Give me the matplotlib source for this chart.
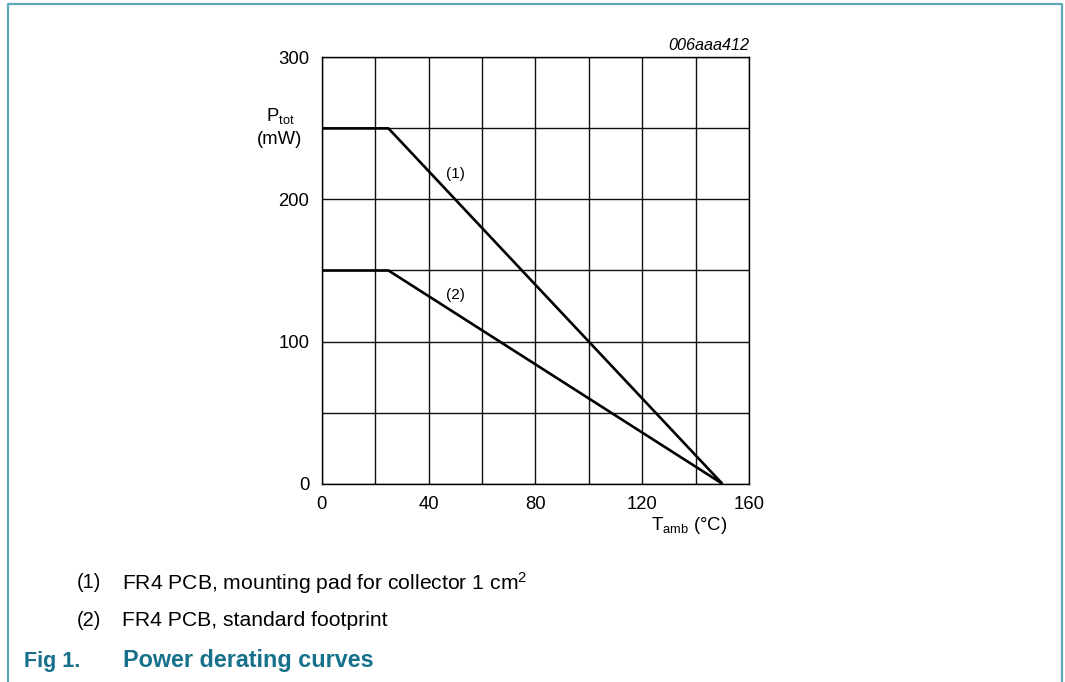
import matplotlib
matplotlib.use("Agg")
import matplotlib.pyplot as plt
from matplotlib.lines import Line2D

plt.rcParams['font.family'] = ['Liberation Sans', 'DejaVu Sans']
plt.rcParams['mathtext.fontset'] = 'custom'
plt.rcParams['mathtext.rm'] = 'Liberation Sans'
plt.rcParams['mathtext.it'] = 'Liberation Sans:italic'

# data
t_amb = [0, 25, 150]
p_fr4_1cm2 = [250, 250, 0]
p_fr4_std = [150, 150, 0]
x_ticks = [0, 40, 80, 120, 160]
y_ticks = [0, 100, 200, 300]
curve_labels = ["(1)", "(2)"]
caption_lines = ["FR4 PCB, mounting pad for collector 1 cm$^{2}$", "FR4 PCB, standard footprint"]

W, H = 1065, 682
fig = plt.figure(figsize=(W / 100, H / 100), dpi=100)


def fx(px):
    return px / W


def fy(py):
    return 1 - py / H


ax = fig.add_axes([fx(321.7), fy(483.7), fx(749) - fx(321.7), fy(57.3) - fy(483.7)])
ax.set_xlim(0, 160)
ax.set_ylim(0, 300)
ax.set_xticks(x_ticks)
ax.set_yticks(y_ticks)
ax.set_xticks(range(0, 161, 20), minor=True)
ax.set_yticks(range(0, 301, 50), minor=True)
ax.grid(which='both', color='#111111', linewidth=1.0)
ax.set_axisbelow(True)
ax.tick_params(which='both', length=0)
ax.tick_params(axis='y', pad=9, labelsize=13.3)
ax.tick_params(axis='x', pad=9, labelsize=13.3)
for s in ax.spines.values():
    s.set_linewidth(1.0)
    s.set_color('#000000')

ax.plot(t_amb, p_fr4_1cm2, color='black', linewidth=1.9, solid_capstyle='butt', zorder=3)
ax.plot(t_amb, p_fr4_std, color='black', linewidth=1.9, solid_capstyle='butt', zorder=3)
ax.text(50, 218, curve_labels[0], fontsize=11, ha='center', va='center')
ax.text(50, 133, curve_labels[1], fontsize=11, ha='center', va='center')

fig.text(fx(280), fy(116), r"P$_{\mathrm{tot}}$", fontsize=13.3, ha='center', va='center')
fig.text(fx(280), fy(140), "(mW)", fontsize=13.3, ha='center', va='center')
fig.text(fx(689), fy(526), r"T$_{\mathrm{amb}}$ (°C)", fontsize=13.3, ha='center', va='center')
fig.text(fx(749), fy(45), "006aaa412", fontsize=11.7, style='italic', ha='right', va='center')

fig.text(fx(77), fy(583), "(1)", fontsize=14.5, ha='left', va='center')
fig.text(fx(122), fy(583), caption_lines[0], fontsize=15.2, ha='left', va='center')
fig.text(fx(77), fy(621), "(2)", fontsize=14.5, ha='left', va='center')
fig.text(fx(122), fy(621), caption_lines[1], fontsize=15.2, ha='left', va='center')

teal = '#17718a'
fig.text(fx(24), fy(661), "Fig 1.", fontsize=15.5, fontweight='bold', color=teal, ha='left', va='center')
fig.text(fx(123), fy(661), "Power derating curves", fontsize=16.8, fontweight='bold', color=teal, ha='left', va='center')

border = '#5ea8b8'
fig.add_artist(Line2D([fx(8), fx(8), fx(1062), fx(1062)], [0, fy(4), fy(4), 0],
                      color=border, linewidth=1.6, transform=fig.transFigure))

fig.savefig("out.png", dpi=100)
